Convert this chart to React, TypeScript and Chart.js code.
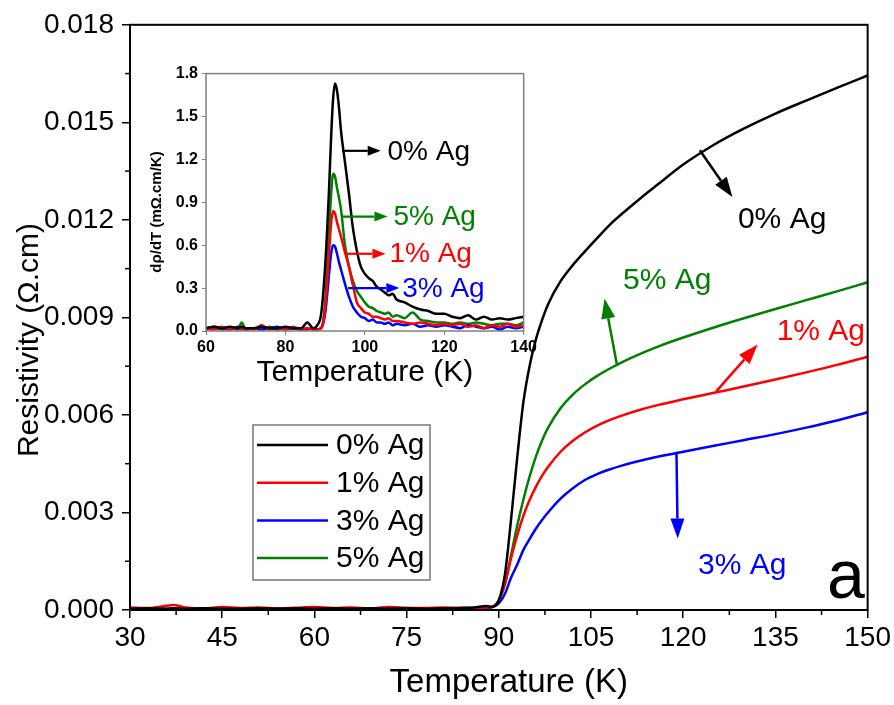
import React, { useEffect, useRef } from 'react';
import { Chart, registerables } from 'chart.js';

Chart.register(...registerables);

const FONT = "'Liberation Sans', Arial, sans-serif";

// ---------- main chart data: resistivity (Ω.cm) vs temperature (K) ----------
const mainT = [30, 33, 36, 37, 39, 42, 45, 48, 51, 54, 57, 60, 63, 66, 69, 72, 75, 78, 81, 84, 86, 88,
  89, 90, 91, 92, 93, 94, 95, 96, 97, 98, 100, 102, 104, 106, 108, 110, 113, 116, 120, 125, 130, 135, 140, 145, 150];

const rho0 = [0.00004, 0.00005, 0.00004, 0.00005, 0.00004, 0.00005, 0.00004, 0.00004, 0.00005, 0.00004, 0.00005, 0.00004, 0.00005, 0.00004, 0.00005, 0.00004, 0.00005, 0.00004, 0.00005, 0.00006, 0.00008, 0.00012,
  0.0001, 0.0003, 0.0011, 0.0028, 0.0047, 0.0064, 0.0075, 0.0083, 0.0089, 0.0094, 0.0101, 0.0106, 0.01103, 0.01144, 0.01184, 0.01218, 0.01266, 0.01311, 0.0137, 0.01431, 0.01482, 0.01527, 0.01567, 0.01606, 0.01644];

const rho1 = [0.00008, 0.00006, 0.00013, 0.00015, 0.00008, 0.00005, 0.00009, 0.00006, 0.00008, 0.00005, 0.00007, 0.00009, 0.00006, 0.00008, 0.00005, 0.00009, 0.00007, 0.00006, 0.00008, 0.00007, 0.00006, 0.00008,
  0.0001, 0.0003, 0.0008, 0.0016, 0.0023, 0.0029, 0.00338, 0.00378, 0.00412, 0.0044, 0.00486, 0.0052, 0.00546, 0.00567, 0.00584, 0.00598, 0.00616, 0.00631, 0.00648, 0.00668, 0.00688, 0.00709, 0.00731, 0.00754, 0.00779];

const rho3 = [0.00003, 0.00004, 0.00003, 0.00005, 0.00003, 0.00004, 0.00003, 0.00004, 0.00003, 0.00004, 0.00003, 0.00004, 0.00005, 0.00003, 0.00004, 0.00003, 0.00004, 0.00003, 0.00004, 0.00003, 0.00004, 0.00005,
  0.0001, 0.0002, 0.0005, 0.0010, 0.0014, 0.00185, 0.00218, 0.00249, 0.00276, 0.003, 0.00342, 0.00374, 0.004, 0.00418, 0.00432, 0.00444, 0.00459, 0.00472, 0.00487, 0.00505, 0.00523, 0.00541, 0.00561, 0.00583, 0.00608];

const rho5 = [0.00001, 0.00002, 0.00001, 0.00002, 0.00001, 0.00002, 0.00001, 0.00002, 0.00001, 0.00002, 0.00001, 0.00002, 0.00001, 0.00002, 0.00001, 0.00002, 0.00001, 0.00002, 0.00001, 0.00002, 0.00001, 0.00002,
  0.0001, 0.0003, 0.0008, 0.0017, 0.0026, 0.0034, 0.0041, 0.0047, 0.0052, 0.0056, 0.0062, 0.00662, 0.00694, 0.0072, 0.00742, 0.00762, 0.00788, 0.00811, 0.00838, 0.00869, 0.00898, 0.00926, 0.00953, 0.0098, 0.01008];

const seriesLabels = ['0% Ag', '1% Ag', '3% Ag', '5% Ag'];
const seriesColors = ['#000000', '#ff0000', '#0000ff', '#008000'];

// ---------- inset data: dρ/dT (mΩ.cm/K) vs temperature (K) ----------
const insetT = [60, 62, 64, 66, 68, 69, 70, 72, 74, 76, 78, 80, 82, 84, 85.5, 87, 88,
  89, 90, 91, 91.5, 92, 92.5, 93, 93.5,
  94, 95, 96, 97, 98, 99, 100, 101, 102, 103, 104, 105, 106, 107, 108,
  110, 112, 114, 116, 118, 120, 122, 124, 126, 128, 130, 132, 134, 136, 138, 140];

const drdt0 = [0.02, 0.03, 0.02, 0.03, 0.02, 0.03, 0.02, 0.02, 0.03, 0.02, 0.02, 0.03, 0.02, 0.02, 0.06, 0.02, 0.04,
  0.12, 0.45, 1.0, 1.35, 1.62, 1.73, 1.68, 1.56,
  1.40, 1.18, 0.96, 0.72, 0.56, 0.45, 0.40, 0.37, 0.35, 0.31, 0.29, 0.27, 0.25, 0.26, 0.22,
  0.20, 0.17, 0.15, 0.14, 0.12, 0.12, 0.10, 0.09, 0.11, 0.08, 0.10, 0.08, 0.09, 0.08, 0.09, 0.10];

const drdt1 = [0.02, 0.01, 0.03, 0.01, 0.02, 0.01, 0.02, 0.01, 0.04, 0.01, 0.02, 0.01, 0.03, 0.01, 0.02, 0.01, 0.01,
  0.02, 0.15, 0.55, 0.75, 0.84, 0.82, 0.76, 0.71,
  0.66, 0.55, 0.45, 0.32, 0.20, 0.16, 0.13, 0.12, 0.10, 0.10, 0.09, 0.08, 0.09, 0.07, 0.07,
  0.06, 0.05, 0.06, 0.05, 0.04, 0.05, 0.04, 0.05, 0.03, 0.04, 0.02, 0.04, 0.03, 0.05, 0.03, 0.04];

const drdt3 = [0.01, 0.03, 0.02, 0.01, 0.03, 0.02, 0.01, 0.02, 0.01, 0.02, 0.03, 0.01, 0.02, 0.01, 0.01, 0.02, 0.01,
  0.02, 0.12, 0.40, 0.54, 0.60, 0.59, 0.54, 0.48,
  0.43, 0.33, 0.24, 0.17, 0.13, 0.10, 0.09, 0.07, 0.08, 0.06, 0.06, 0.05, 0.06, 0.04, 0.05,
  0.04, 0.05, 0.03, 0.04, 0.03, 0.04, 0.03, 0.02, 0.04, 0.03, 0.02, 0.03, 0.01, 0.03, 0.02, 0.03];

const drdt5 = [0.01, 0.02, 0.01, 0.02, 0.01, 0.06, 0.01, 0.02, 0.01, 0.03, 0.01, 0.02, 0.02, 0.01, 0.02, 0.01, 0.01,
  0.02, 0.20, 0.70, 0.95, 1.10, 1.08, 1.00, 0.93,
  0.85, 0.60, 0.45, 0.35, 0.28, 0.24, 0.20, 0.17, 0.16, 0.14, 0.13, 0.12, 0.13, 0.10, 0.11,
  0.09, 0.13, 0.08, 0.07, 0.06, 0.06, 0.05, 0.06, 0.05, 0.06, 0.05, 0.04, 0.05, 0.05, 0.04, 0.06];

// annotation anchors (data coordinates)
const mainNotes = [
  { x1: 122.7, y1: 0.01414, x2: 128.0, y2: 0.0127, tx: 128.9, ty: 0.0120, i: 0 },
  { x1: 109.2, y1: 0.00756, x2: 107.2, y2: 0.00958, tx: 110.2, ty: 0.01013, i: 3 },
  { x1: 125.4, y1: 0.00673, x2: 132.1, y2: 0.00817, tx: 135.2, ty: 0.00857, i: 1 },
  { x1: 118.9, y1: 0.00484, x2: 119.1, y2: 0.0022, tx: 122.4, ty: 0.00135, i: 2 },
];
const insetNotes = [
  { x1: 94.3, x2: 104.0, y: 1.26, tx: 105.7, i: 0 },
  { x1: 94.0, x2: 105.7, y: 0.80, tx: 107.2, i: 3 },
  { x1: 95.0, x2: 105.2, y: 0.54, tx: 106.2, i: 1 },
  { x1: 95.8, x2: 108.7, y: 0.30, tx: 109.4, i: 2 },
];

function toPts(xs: number[], ys: number[]) {
  return xs.map((x, k) => ({ x, y: ys[k] }));
}

function arrow(ctx: CanvasRenderingContext2D, x1: number, y1: number, x2: number, y2: number,
  color: string, lw: number, hl: number, hw: number) {
  const a = Math.atan2(y2 - y1, x2 - x1);
  const bx = x2 - hl * Math.cos(a);
  const by = y2 - hl * Math.sin(a);
  ctx.strokeStyle = color;
  ctx.fillStyle = color;
  ctx.lineWidth = lw;
  ctx.beginPath();
  ctx.moveTo(x1, y1);
  ctx.lineTo(bx, by);
  ctx.stroke();
  ctx.beginPath();
  ctx.moveTo(x2, y2);
  ctx.lineTo(bx + hw * Math.sin(a), by - hw * Math.cos(a));
  ctx.lineTo(bx - hw * Math.sin(a), by + hw * Math.cos(a));
  ctx.closePath();
  ctx.fill();
}

const mainDeco = {
  id: 'mainDeco',
  afterDraw(chart: any) {
    const { ctx, chartArea: ca, scales } = chart;
    const x = scales.x, y = scales.y;
    ctx.save();
    // frame
    ctx.strokeStyle = '#000';
    ctx.lineWidth = 2;
    ctx.strokeRect(ca.left, ca.top, ca.right - ca.left, ca.bottom - ca.top);
    // minor ticks
    ctx.lineWidth = 1.5;
    for (let v = 37.5; v < 150; v += 15) {
      const px = x.getPixelForValue(v);
      ctx.beginPath(); ctx.moveTo(px, ca.bottom); ctx.lineTo(px, ca.bottom + 5); ctx.stroke();
    }
    for (let k = 0; k < 6; k++) {
      const py = y.getPixelForValue(0.0015 + k * 0.003);
      ctx.beginPath(); ctx.moveTo(ca.left, py); ctx.lineTo(ca.left - 5, py); ctx.stroke();
    }
    // axis titles
    ctx.fillStyle = '#000';
    ctx.font = `33px ${FONT}`;
    ctx.textAlign = 'center';
    ctx.textBaseline = 'middle';
    ctx.fillText('Temperature (K)', (ca.left + ca.right) / 2 + 10, 683);
    ctx.save();
    ctx.translate(30, 340);
    ctx.rotate(-Math.PI / 2);
    ctx.font = `30px ${FONT}`;
    ctx.fillText('Resistivity (\u03A9.cm)', 0, 0);
    ctx.restore();
    // legend
    ctx.strokeStyle = '#777';
    ctx.lineWidth = 1.5;
    ctx.strokeRect(253, 425, 177, 155);
    const ds = chart.data.datasets;
    ctx.font = `30px ${FONT}`;
    ctx.textAlign = 'left';
    ds.forEach((d: any, k: number) => {
      const yy = 445 + k * 37.7;
      ctx.strokeStyle = d.borderColor;
      ctx.lineWidth = 2.5;
      ctx.beginPath(); ctx.moveTo(257, yy); ctx.lineTo(328, yy); ctx.stroke();
      ctx.fillStyle = '#000';
      ctx.fillText(d.label, 336, yy + 1);
    });
    // annotations
    mainNotes.forEach((n) => {
      const c = seriesColors[n.i];
      arrow(ctx, x.getPixelForValue(n.x1), y.getPixelForValue(n.y1),
        x.getPixelForValue(n.x2), y.getPixelForValue(n.y2), c, 2.5, 20, 7);
      ctx.fillStyle = c;
      ctx.font = `30px ${FONT}`;
      ctx.textAlign = 'left';
      ctx.textBaseline = 'middle';
      ctx.fillText(seriesLabels[n.i], x.getPixelForValue(n.tx), y.getPixelForValue(n.ty));
    });
    ctx.fillStyle = '#000';
    ctx.font = `68px ${FONT}`;
    ctx.textBaseline = 'alphabetic';
    ctx.fillText('a', x.getPixelForValue(143.4), y.getPixelForValue(0.00037));
    ctx.restore();
  },
};

const insetDeco = {
  id: 'insetDeco',
  afterDraw(chart: any) {
    const { ctx, chartArea: ca, scales } = chart;
    const x = scales.x, y = scales.y;
    ctx.save();
    ctx.strokeStyle = '#808080';
    ctx.lineWidth = 1.5;
    ctx.strokeRect(ca.left, ca.top, ca.right - ca.left, ca.bottom - ca.top);
    ctx.fillStyle = '#000';
    ctx.textAlign = 'center';
    ctx.textBaseline = 'middle';
    ctx.font = `30px ${FONT}`;
    ctx.fillText('Temperature (K)', (ca.left + ca.right) / 2, 313);
    ctx.save();
    ctx.translate(17, 152);
    ctx.rotate(-Math.PI / 2);
    ctx.font = `bold 15px ${FONT}`;
    ctx.fillText('d\u03C1/dT (m\u03A9.cm/K)', 0, 0);
    ctx.restore();
    insetNotes.forEach((n) => {
      const c = seriesColors[n.i];
      const py = y.getPixelForValue(n.y);
      arrow(ctx, x.getPixelForValue(n.x1), py, x.getPixelForValue(n.x2), py, c, 2.2, 13, 5);
      ctx.fillStyle = c;
      ctx.font = `28px ${FONT}`;
      ctx.textAlign = 'left';
      ctx.textBaseline = 'middle';
      ctx.fillText(seriesLabels[n.i], x.getPixelForValue(n.tx), py + 1);
    });
    ctx.restore();
  },
};

export default function App() {
  const mainRef = useRef<HTMLCanvasElement>(null);
  const insetRef = useRef<HTMLCanvasElement>(null);

  useEffect(() => {
    document.body.style.margin = '0';
    const mainSeries = [rho0, rho1, rho3, rho5];
    const main = new Chart(mainRef.current!, {
      type: 'line',
      data: {
        datasets: mainSeries.map((s, k) => ({
          label: seriesLabels[k],
          data: toPts(mainT, s),
          borderColor: seriesColors[k],
          backgroundColor: seriesColors[k],
          borderWidth: 2.5,
          pointRadius: 0,
          cubicInterpolationMode: 'monotone' as const,
          fill: false,
        })),
      },
      options: {
        animation: false,
        responsive: false,
        events: [],
        layout: { padding: { left: 0, top: 22, right: 26, bottom: 0 } },
        plugins: { legend: { display: false }, title: { display: false }, tooltip: { enabled: false } },
        scales: {
          x: {
            type: 'linear',
            min: 30,
            max: 150,
            afterFit: (s: any) => { s.height = 95; },
            border: { display: false },
            grid: { drawOnChartArea: false, drawTicks: true, tickLength: 8, color: '#000', lineWidth: 1.5 },
            ticks: {
              stepSize: 15, autoSkip: false, maxRotation: 0, padding: 3, color: '#000',
              font: { family: FONT, size: 28 },
              callback: (v: any) => String(Math.round(Number(v))),
            },
          },
          y: {
            type: 'linear',
            min: 0,
            max: 0.018,
            afterFit: (s: any) => { s.width = 130; },
            border: { display: false },
            grid: { drawOnChartArea: false, drawTicks: true, tickLength: 8, color: '#000', lineWidth: 1.5 },
            ticks: {
              stepSize: 0.003, autoSkip: false, padding: 8, color: '#000',
              font: { family: FONT, size: 28 },
              callback: (v: any) => Number(v).toFixed(3),
            },
          },
        },
      },
      plugins: [mainDeco],
    });

    const insetSeries = [drdt0, drdt1, drdt3, drdt5];
    const inset = new Chart(insetRef.current!, {
      type: 'line',
      data: {
        datasets: insetSeries.map((s, k) => ({
          label: seriesLabels[k],
          data: toPts(insetT, s),
          borderColor: seriesColors[k],
          backgroundColor: seriesColors[k],
          borderWidth: 2.5,
          pointRadius: 0,
          cubicInterpolationMode: 'monotone' as const,
          fill: false,
        })),
      },
      options: {
        animation: false,
        responsive: false,
        events: [],
        layout: { padding: { left: 0, top: 9, right: 12, bottom: 0 } },
        plugins: { legend: { display: false }, title: { display: false }, tooltip: { enabled: false } },
        scales: {
          x: {
            type: 'linear',
            min: 60,
            max: 140,
            afterFit: (s: any) => { s.height = 74; },
            border: { display: false },
            grid: { drawOnChartArea: false, drawTicks: true, tickLength: 4, color: '#808080', lineWidth: 1 },
            ticks: {
              stepSize: 20, autoSkip: false, maxRotation: 0, padding: 3, color: '#000',
              font: { family: FONT, size: 16, weight: 'bold' },
              callback: (v: any) => String(Math.round(Number(v))),
            },
          },
          y: {
            type: 'linear',
            min: 0,
            max: 1.8,
            afterFit: (s: any) => { s.width = 66; },
            border: { display: false },
            grid: { drawOnChartArea: false, drawTicks: true, tickLength: 4, color: '#808080', lineWidth: 1 },
            ticks: {
              stepSize: 0.3, autoSkip: false, padding: 4, color: '#000',
              font: { family: FONT, size: 16, weight: 'bold' },
              callback: (v: any) => Number(v).toFixed(1),
            },
          },
        },
      },
      plugins: [insetDeco],
    });

    return () => {
      main.destroy();
      inset.destroy();
    };
  }, []);

  return (
    <div style={{ position: 'relative', width: 894, height: 705, background: '#fff' }}>
      <canvas ref={mainRef} width={894} height={705}
        style={{ position: 'absolute', left: 0, top: 0, width: 894, height: 705 }} />
      <canvas ref={insetRef} width={400} height={345}
        style={{ position: 'absolute', left: 140, top: 60, width: 400, height: 345 }} />
    </div>
  );
}
